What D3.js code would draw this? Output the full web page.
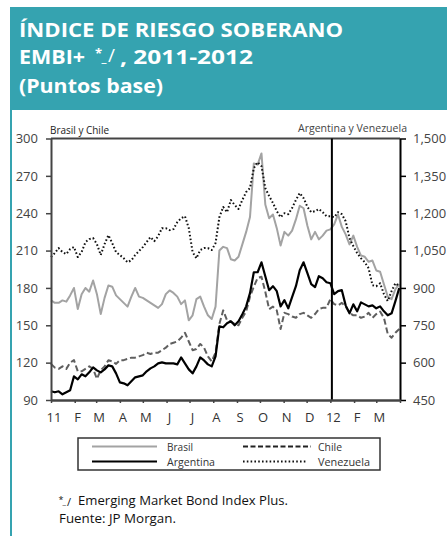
<!DOCTYPE html>
<html>
<head>
<meta charset="utf-8">
<script src="https://cdn.jsdelivr.net/npm/d3@7"></script>
<style>
  html, body { margin: 0; padding: 0; background: #fff; }
  svg { display: block; }
</style>
</head>
<body>
<svg id="chart" width="447" height="536"></svg>
<script>
// ---------------- DATA ----------------
const dates = [
 "2011-01-01","2011-01-06","2011-01-11","2011-01-16","2011-01-21","2011-01-26","2011-01-31","2011-02-05","2011-02-10","2011-02-15",
 "2011-02-20","2011-02-25","2011-03-02","2011-03-07","2011-03-12","2011-03-17","2011-03-22","2011-03-27","2011-04-01","2011-04-06",
 "2011-04-11","2011-04-16","2011-04-21","2011-04-26","2011-05-01","2011-05-06","2011-05-11","2011-05-16","2011-05-21","2011-05-26",
 "2011-05-31","2011-06-05","2011-06-10","2011-06-15","2011-06-20","2011-06-25","2011-06-30","2011-07-05","2011-07-10","2011-07-15",
 "2011-07-20","2011-07-25","2011-07-30","2011-08-04","2011-08-09","2011-08-14","2011-08-19","2011-08-24","2011-08-29","2011-09-03",
 "2011-09-08","2011-09-13","2011-09-18","2011-09-23","2011-09-28","2011-10-03","2011-10-08","2011-10-13","2011-10-18","2011-10-23",
 "2011-10-28","2011-11-02","2011-11-07","2011-11-12","2011-11-17","2011-11-22","2011-11-27","2011-12-02","2011-12-07","2011-12-12",
 "2011-12-17","2011-12-22","2011-12-27","2012-01-01","2012-01-06","2012-01-11","2012-01-16","2012-01-21","2012-01-26","2012-01-31",
 "2012-02-05","2012-02-10","2012-02-15","2012-02-20","2012-02-25","2012-03-01","2012-03-06","2012-03-11","2012-03-16","2012-03-21",
 "2012-03-26","2012-03-31"
];

// Left axis (Brasil y Chile)
const brasil = [
 170,168,168,170,169,174,180,163,175,180,
 177,186,175,159,172,182,181,174,171,168,
 165,173,180,173,172,170,168,166,164,167,
 175,178,176,173,167,170,154,158,171,173,
 165,158,155,165,210,213,212,203,202,205,
 215,225,237,280,279,288,247,236,239,228,
 214,225,222,226,235,246,244,230,219,225,
 219,222,226,227,231,239,229,223,215,222,
 213,206,205,201,202,194,193,183,173,171,
 179,183
];
const chile = [
 119,116,115,117,115,120,122,113,113,115,
 117,115,107,114,117,122,121,119,122,122,
 123,124,124,125,126,128,127,128,128,130,
 132,135,136,137,140,144,137,130,131,135,
 132,125,121,128,151,162,154,153,151,150,
 156,161,173,181,188,189,177,163,165,162,
 147,160,159,157,156,159,160,158,156,159,
 163,164,164,171,167,166,168,165,160,158,
 158,156,157,160,156,159,161,156,143,140,
 144,147
];
// Right axis (Argentina y Venezuela)
const argentina = [
 485,481,485,473,481,489,545,533,553,545,
 561,581,569,561,573,589,585,557,521,517,
 509,525,541,545,549,565,577,585,597,601,
 597,597,597,593,621,597,573,557,585,621,
 609,593,585,625,746,742,758,766,750,766,
 794,826,879,963,963,1003,947,891,907,887,
 826,851,818,863,907,971,1003,959,915,903,
 947,939,923,919,875,887,891,830,798,834,
 806,842,834,826,830,818,826,806,790,798,
 847,899
];
const venezuela = [
 1024,1040,1060,1044,1036,1056,1064,1024,1044,1084,
 1096,1100,1076,1032,1076,1112,1080,1044,1032,1019,
 1003,1011,1032,1048,1064,1084,1104,1088,1108,1140,
 1140,1132,1136,1164,1180,1188,1140,1044,1019,1052,
 1060,1060,1052,1080,1184,1225,1204,1253,1233,1217,
 1253,1285,1301,1381,1405,1389,1301,1269,1241,1208,
 1184,1200,1196,1221,1253,1281,1261,1225,1204,1208,
 1217,1204,1188,1188,1184,1204,1196,1168,1100,1068,
 1040,1019,1003,979,911,907,919,875,847,887,
 919,907
];

const leftTicks = [90,120,150,180,210,240,270,300];
const rightTicks = [450,600,750,900,1050,1200,1350,1500];
const monthLabels = ["11","F","M","A","M","J","J","A","S","O","N","D","12","F","M"];
const yearBreak = "2012-01-03";

const titleLines = ["ÍNDICE DE RIESGO  SOBERANO", "EMBI+", ", 2011-2012", "(Puntos base)"];
const leftAxisTitle = "Brasil y Chile";
const rightAxisTitle = "Argentina y Venezuela";
const legendItems = [
  {name: "Brasil", key: "brasil"},
  {name: "Chile", key: "chile"},
  {name: "Argentina", key: "argentina"},
  {name: "Venezuela", key: "venezuela"}
];
const footnotes = ["Emerging Market Bond Index Plus.", "Fuente: JP Morgan."];

// ---------------- DRAW ----------------
const parse = d3.timeParse("%Y-%m-%d");
const svg = d3.select("#chart");
const FONT = "'Open Sans', 'Noto Sans', sans-serif";
const TEAL = "#35a3b0";

svg.append("rect").attr("width", 447).attr("height", 536).attr("fill", "#fff");

// header panel and left stripe
svg.append("rect").attr("x", 10).attr("y", 7).attr("width", 437).attr("height", 103).attr("fill", TEAL);
svg.append("rect").attr("x", 10).attr("y", 7).attr("width", 2).attr("height", 529).attr("fill", TEAL);

const title = svg.append("g").attr("fill", "#fff").attr("font-family", FONT).attr("font-weight", 700);
title.append("text").attr("x", 19).attr("y", 37).attr("font-size", 19.5)
  .attr("textLength", 324).attr("lengthAdjust", "spacingAndGlyphs").text(titleLines[0]);
title.append("text").attr("x", 19).attr("y", 64).attr("font-size", 19.5)
  .attr("textLength", 66).attr("lengthAdjust", "spacingAndGlyphs").text(titleLines[1]);
// footnote marker  *_/
title.append("text").attr("x", 95).attr("y", 57.5).attr("font-size", 13).text("*");
title.append("text").attr("x", 101.5).attr("y", 62).attr("font-size", 12).text("_");
title.append("text").attr("x", 108).attr("y", 62).attr("font-size", 19).attr("font-weight", 400).text("/");
title.append("text").attr("x", 120).attr("y", 64).attr("font-size", 19.5)
  .attr("textLength", 133).attr("lengthAdjust", "spacingAndGlyphs").text(titleLines[2]);
title.append("text").attr("x", 19).attr("y", 93).attr("font-size", 19.5)
  .attr("textLength", 144).attr("lengthAdjust", "spacingAndGlyphs").text(titleLines[3]);

// scales
const x0 = 51, x1 = 400, yTop = 138.5, yBot = 400;
const x = d3.scaleTime().domain([parse("2011-01-01"), parse("2012-04-01")]).range([x0, x1]);
const yL = d3.scaleLinear().domain([90, 300]).range([yBot, yTop]);
const yR = d3.scaleLinear().domain([450, 1500]).range([yBot, yTop]);

// top frame line
svg.append("line").attr("x1", x0).attr("x2", x1).attr("y1", yTop).attr("y2", yTop)
  .attr("stroke", "#444").attr("stroke-width", 2);

// series
const seriesDefs = {
  brasil:    {vals: brasil,    y: yL, color: "#a3a3a3", width: 2,   dash: null},
  chile:     {vals: chile,     y: yL, color: "#5f5f5f", width: 2,   dash: "6,3"},
  venezuela: {vals: venezuela, y: yR, color: "#111",    width: 2,   dash: "1.6,2.2"},
  argentina: {vals: argentina, y: yR, color: "#000",    width: 2.2, dash: null}
};
["brasil", "chile", "venezuela", "argentina"].forEach(k => {
  const s = seriesDefs[k];
  const line = d3.line().x((d, i) => x(parse(dates[i]))).y(d => s.y(d));
  svg.append("path").datum(s.vals).attr("d", line).attr("fill", "none")
    .attr("stroke", s.color).attr("stroke-width", s.width)
    .attr("stroke-linejoin", "round")
    .attr("stroke-dasharray", s.dash);
});

// vertical year break line
svg.append("line").attr("x1", x(parse(yearBreak))).attr("x2", x(parse(yearBreak)))
  .attr("y1", yTop).attr("y2", yBot).attr("stroke", "#000").attr("stroke-width", 2);

// left axis
const gL = svg.append("g").attr("transform", `translate(${x0},0)`)
  .call(d3.axisLeft(yL).tickValues(leftTicks).tickSize(5).tickPadding(8).tickSizeOuter(0));
gL.select(".domain").attr("stroke", "#444").attr("stroke-width", 2);
gL.selectAll(".tick line").attr("stroke", "#444").attr("stroke-width", 1.5);
gL.selectAll("text").attr("font-family", FONT).attr("font-size", 13).attr("fill", "#444");

// right axis
const gR = svg.append("g").attr("transform", `translate(${x1},0)`)
  .call(d3.axisRight(yR).tickValues(rightTicks).tickSize(6).tickPadding(7).tickSizeOuter(0).tickFormat(d3.format(",")));
gR.select(".domain").attr("stroke", "#000").attr("stroke-width", 2);
gR.selectAll(".tick line").attr("stroke", "#000").attr("stroke-width", 1.5);
gR.selectAll("text").attr("font-family", FONT).attr("font-size", 13).attr("fill", "#444");

// bottom axis
const months = d3.timeMonth.range(parse("2011-01-01"), parse("2012-04-02"));
const gB = svg.append("g").attr("transform", `translate(0,${yBot})`)
  .call(d3.axisBottom(x).tickValues(months).tickSize(3).tickPadding(10)
    .tickSizeOuter(0).tickFormat((d, i) => monthLabels[i] || ""));
gB.select(".domain").attr("stroke", "#444").attr("stroke-width", 2.5);
gB.selectAll(".tick line").attr("stroke", "#444").attr("stroke-width", 1.5);
gB.selectAll("text").attr("font-family", FONT).attr("font-size", 13).attr("fill", "#333").attr("dx", 2.5);

// axis titles
svg.append("text").attr("x", 50).attr("y", 134).attr("font-family", FONT).attr("font-size", 10.5)
  .attr("fill", "#222").attr("textLength", 59).attr("lengthAdjust", "spacingAndGlyphs").text(leftAxisTitle);
svg.append("text").attr("x", 298).attr("y", 132).attr("font-family", FONT).attr("font-size", 10.5)
  .attr("fill", "#444").attr("textLength", 109).attr("lengthAdjust", "spacingAndGlyphs").text(rightAxisTitle);

// legend
svg.append("rect").attr("x", 78).attr("y", 438).attr("width", 302).attr("height", 32)
  .attr("fill", "none").attr("stroke", "#333").attr("stroke-width", 1.5);
const legPos = {
  brasil:    {lx1: 92,  lx2: 157, ly: 446.5, tx: 167, tw: 26},
  chile:     {lx1: 243, lx2: 311, ly: 446.5, tx: 318, tw: 24},
  argentina: {lx1: 92,  lx2: 157, ly: 461.5, tx: 167, tw: 48},
  venezuela: {lx1: 243, lx2: 306, ly: 461.5, tx: 318, tw: 52}
};
legendItems.forEach(it => {
  const s = seriesDefs[it.key], p = legPos[it.key];
  svg.append("line").attr("x1", p.lx1).attr("x2", p.lx2).attr("y1", p.ly).attr("y2", p.ly)
    .attr("stroke", it.key === "chile" ? "#222" : s.color).attr("stroke-width", s.width)
    .attr("stroke-dasharray", it.key === "chile" ? "5,2.5" : s.dash);
  svg.append("text").attr("x", p.tx).attr("y", p.ly + 4.5).attr("font-family", FONT)
    .attr("font-size", 11).attr("fill", "#333")
    .attr("textLength", p.tw).attr("lengthAdjust", "spacingAndGlyphs").text(it.name);
});

// footnotes
const fn = svg.append("g").attr("font-family", FONT).attr("fill", "#111");
fn.append("text").attr("x", 58.5).attr("y", 502.5).attr("font-size", 9).text("*");
fn.append("text").attr("x", 62.5).attr("y", 504.5).attr("font-size", 8).text("_");
fn.append("text").attr("x", 67).attr("y", 505.5).attr("font-size", 11).text("/");
fn.append("text").attr("x", 78).attr("y", 505).attr("font-size", 13)
  .attr("textLength", 210).attr("lengthAdjust", "spacingAndGlyphs").text(footnotes[0]);
fn.append("text").attr("x", 59).attr("y", 523).attr("font-size", 13)
  .attr("textLength", 117).attr("lengthAdjust", "spacingAndGlyphs").text(footnotes[1]);
</script>
</body>
</html>
